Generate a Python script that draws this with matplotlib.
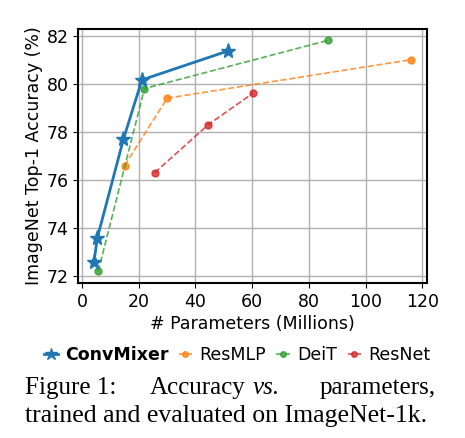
import matplotlib
matplotlib.use("Agg")
import matplotlib.pyplot as plt

# params (millions) and top-1 accuracy
convmixer_params = [4.2, 5.4, 14.6, 21.1, 51.6]
convmixer_acc = [72.6, 73.6, 77.7, 80.16, 81.37]
resmlp_params = [15, 30, 116]
resmlp_acc = [76.6, 79.4, 81.0]
deit_params = [5.7, 22, 86.6]
deit_acc = [72.2, 79.8, 81.8]
resnet_params = [25.6, 44.5, 60.2]
resnet_acc = [76.3, 78.3, 79.6]

plt.rcParams['font.size'] = 12.5

fig = plt.figure(figsize=(4.65, 4.38), dpi=100)
ax = fig.add_axes([0.168, 0.354, 0.750, 0.580])

ax.plot(convmixer_params, convmixer_acc, '-*', color='tab:blue', lw=2,
        markersize=11, label='ConvMixer', zorder=5)
ax.plot(resmlp_params, resmlp_acc, '--o', color='tab:orange', lw=1.2,
        markersize=5, alpha=0.8, label='ResMLP')
ax.plot(deit_params, deit_acc, '--o', color='tab:green', lw=1.2,
        markersize=5, alpha=0.8, label='DeiT')
ax.plot(resnet_params, resnet_acc, '--o', color='tab:red', lw=1.2,
        markersize=5, alpha=0.8, label='ResNet')

ax.set_xticks([0, 20, 40, 60, 80, 100, 120])
ax.set_yticks([72, 74, 76, 78, 80, 82])
ax.set_xlabel('# Parameters (Millions)', labelpad=3)
ax.set_ylabel('ImageNet Top-1 Accuracy (%)', labelpad=2)
ax.grid(True, lw=1, color='#b0b0b0')
for s in ax.spines.values():
    s.set_linewidth(1.5)

leg = fig.legend(loc='center', bbox_to_anchor=(0.51, 0.19), ncol=4,
                 frameon=False, handlelength=0.8, handletextpad=0.4,
                 columnspacing=0.6, markerscale=0.8)
leg.get_texts()[0].set_fontweight('bold')

# caption under the chart
cap = dict(family='Liberation Serif', va='baseline')
fig.text(25 / 465, 1 - 394 / 438, 'Figure 1:', ha='left', fontsize=18, **cap)
fig.text(150 / 465, 1 - 394 / 438, 'Accuracy', ha='left', fontsize=18, **cap)
fig.text(253 / 465, 1 - 394 / 438, 'vs.', ha='left', style='italic',
         fontsize=18, **cap)
fig.text(436 / 465, 1 - 394 / 438, 'parameters,', ha='right', fontsize=18,
         **cap)
fig.text(25 / 465, 1 - 422 / 438, 'trained and evaluated on ImageNet-1k.',
         ha='left', fontsize=18.5, **cap)

fig.savefig('out.png', dpi=100)
